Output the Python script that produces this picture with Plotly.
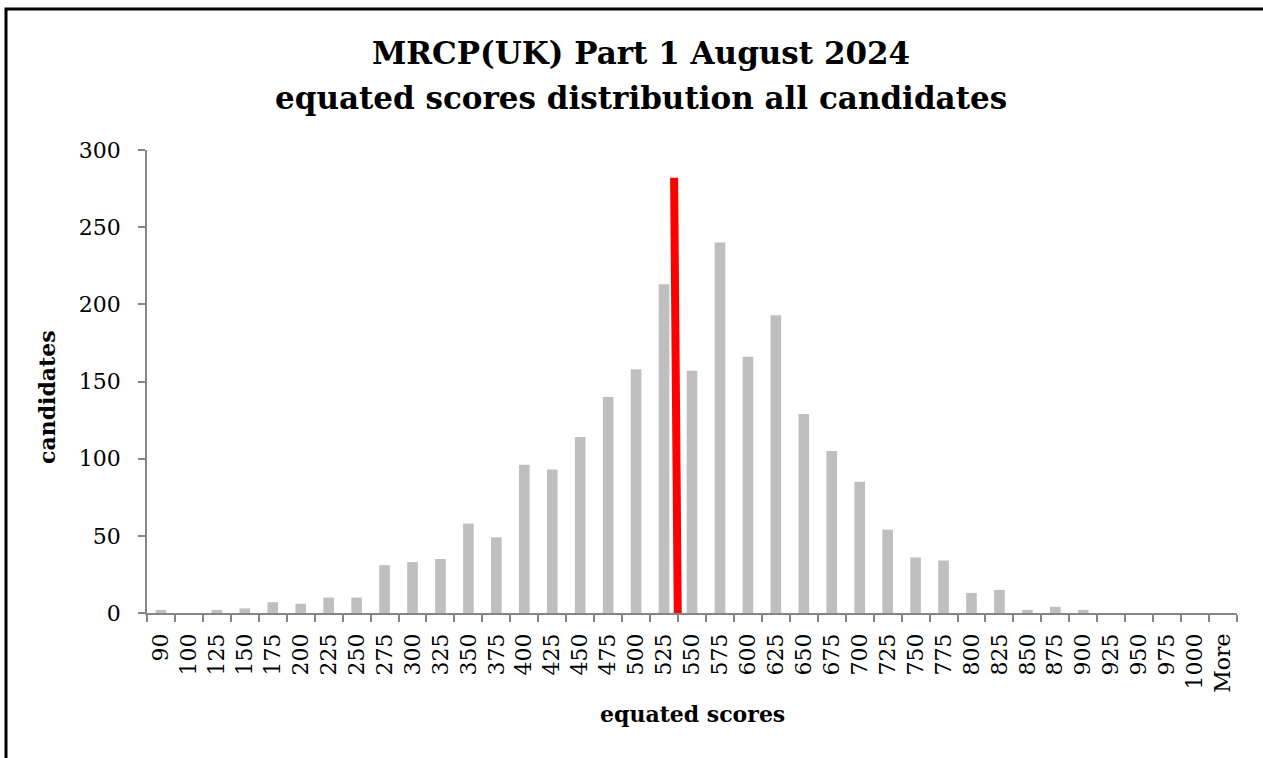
import plotly.graph_objects as go

# score bins and number of candidates in each
bins = ["90", "100", "125", "150", "175", "200", "225", "250", "275", "300",
        "325", "350", "375", "400", "425", "450", "475", "500", "525", "550",
        "575", "600", "625", "650", "675", "700", "725", "750", "775", "800",
        "825", "850", "875", "900", "925", "950", "975", "1000", "More"]
candidates = [2, 0, 2, 3, 7, 6, 10, 10, 31, 33,
              35, 58, 49, 96, 93, 114, 140, 158, 213, 157,
              240, 166, 193, 129, 105, 85, 54, 36, 34, 13,
              15, 2, 4, 2, 0, 0, 0, 0, 0]

# pass mark line (position in bin-index units, candidates scale)
pass_x = [18.36, 18.49]
pass_y = [282, 0]

W, H = 1263, 758
L, R, T, B = 147, 26, 150, 145
pw, ph = W - L - R, H - T - B

def px(x):
    return (x - L) / pw

def py(y):
    return (H - B - y) / ph

font = "DejaVu Serif"
axis_col = "#868686"

fig = go.Figure()
fig.add_trace(go.Bar(x=bins, y=candidates, marker_color="#BFBFBF",
                     marker_line_width=0, showlegend=False))
fig.add_trace(go.Scatter(x=pass_x, y=pass_y, xaxis="x2", mode="lines",
                         line=dict(color="#FF0000", width=8), showlegend=False))

fig.update_layout(
    width=W, height=H,
    margin=dict(l=L, r=R, t=T, b=B),
    paper_bgcolor="white", plot_bgcolor="white",
    bargap=0.62,
    font=dict(family=font, size=22, color="black"),
    xaxis=dict(type="category", categoryorder="array", categoryarray=bins,
               tickson="boundaries", ticks="outside", ticklen=7, tickwidth=1.5,
               tickcolor=axis_col, showline=True, linecolor=axis_col, linewidth=1.5,
               tickangle=-90, showgrid=False, ticklabelstandoff=10,
               range=[-0.5, len(bins) - 0.5]),
    xaxis2=dict(overlaying="x", range=[-0.5, len(bins) - 0.5], visible=False),
    yaxis=dict(range=[0, 300], dtick=50, ticks="outside", ticklen=7, tickwidth=1.5,
               tickcolor=axis_col, showline=True, linecolor=axis_col, linewidth=1.5,
               showgrid=False, zeroline=False, ticklabelstandoff=13),
    shapes=[dict(type="rect", xref="paper", yref="paper",
                 x0=px(6), x1=px(1300), y0=py(800), y1=py(9),
                 line=dict(color="black", width=3), fillcolor="rgba(0,0,0,0)")],
    annotations=[
        dict(text="<b>MRCP(UK) Part 1 August 2024</b>", x=px(641), y=py(53),
             font=dict(size=31)),
        dict(text="<b>equated scores distribution all candidates</b>", x=px(641),
             y=py(98), font=dict(size=31)),
        dict(text="<b>candidates</b>", x=px(47), y=py(397), textangle=-90,
             font=dict(size=22)),
        dict(text="<b>equated scores</b>", x=px(692), y=py(714), font=dict(size=22)),
    ],
)
fig.update_annotations(xref="paper", yref="paper", showarrow=False,
                       xanchor="center", yanchor="middle")

fig.write_html("out.html", config={"displayModeBar": False},
               post_script="document.body.style.margin='0';")
